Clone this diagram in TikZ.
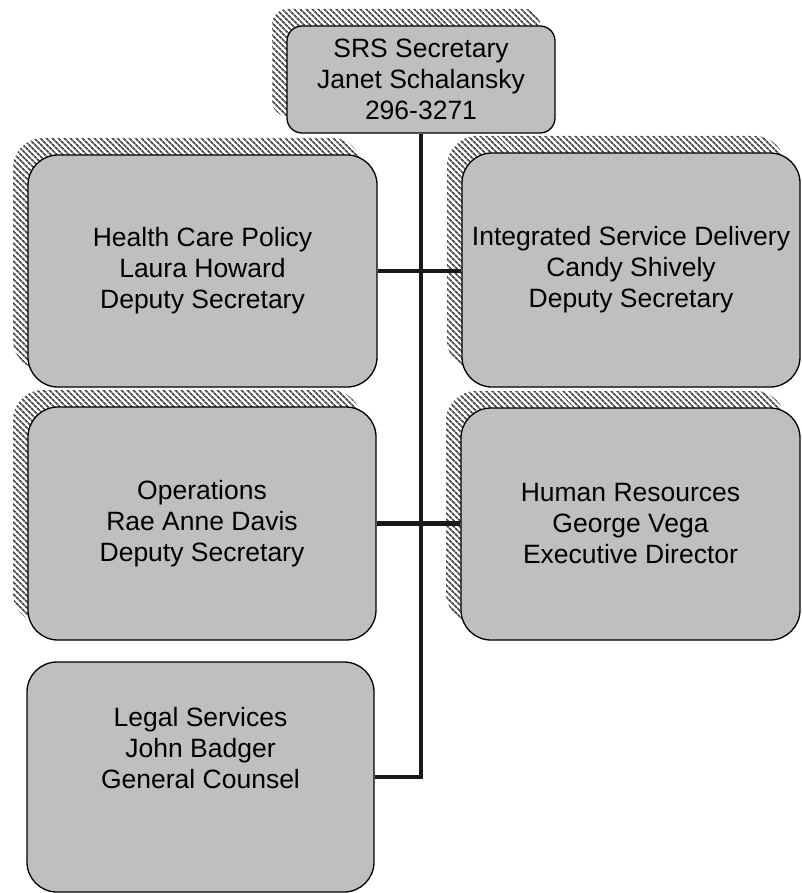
\documentclass[tikz,border=0pt]{standalone}
\usepackage{fontspec}
\setmainfont{Liberation Sans}
\usetikzlibrary{shadows,patterns.meta}

\tikzset{
  unitbox/.style={draw=black, line width=1.3pt, fill=black!25, rounded corners=30pt,
    inner sep=0pt, align=center, font=\fontsize{26.5}{31}\selectfont},
  hatched/.style={general shadow={shadow xshift=-15pt, shadow yshift=17pt,
    draw=none, pattern={Lines[angle=-45, distance=4pt, line width=1.8pt]},
    pattern color=black!70}},
  label text/.style={inner sep=0pt, align=center, font=\fontsize{26.5}{31}\selectfont},
  link/.style={line width=4.5pt, black!90}
}

\begin{document}
\begin{tikzpicture}[x=1pt, y=-1pt]
\useasboundingbox (0,0) rectangle (801,893);
% secretary
\node[unitbox, hatched, rounded corners=15pt, minimum width=268pt, minimum height=107pt]
  (sec) at (421,79.5) {SRS Secretary\\Janet Schalansky\\296-3271};
% deputies
\node[unitbox, hatched, minimum width=349pt, minimum height=232pt]
  (health) at (202.5,271) {Health Care Policy\\Laura Howard\\Deputy Secretary};
\node[unitbox, hatched, minimum width=338pt, minimum height=234pt]
  (isd) at (631,270) {Integrated Service Delivery\\Candy Shively\\Deputy Secretary};
\node[unitbox, hatched, minimum width=348pt, minimum height=233pt]
  (ops) at (202,523.5) {Operations\\Rae Anne Davis\\Deputy Secretary};
\node[unitbox, hatched, minimum width=339pt, minimum height=232pt]
  (hr) at (630.5,524) {Human Resources\\George Vega\\Executive Director};
% legal, text sits above the middle
\node[unitbox, minimum width=347pt, minimum height=230pt] (legal) at (200.5,777) {};
\node[label text] (legaltext) at ([yshift=29pt]legal.center) {Legal Services\\John Badger\\General Counsel};
% lines
\draw[link] (sec.south) -- (sec.south |- legal.east) -- (legal.east);
\draw[link] (health.east) -- (health.east -| isd.west);
\draw[link] (ops.east) -- (ops.east -| hr.west);
\end{tikzpicture}
\end{document}
